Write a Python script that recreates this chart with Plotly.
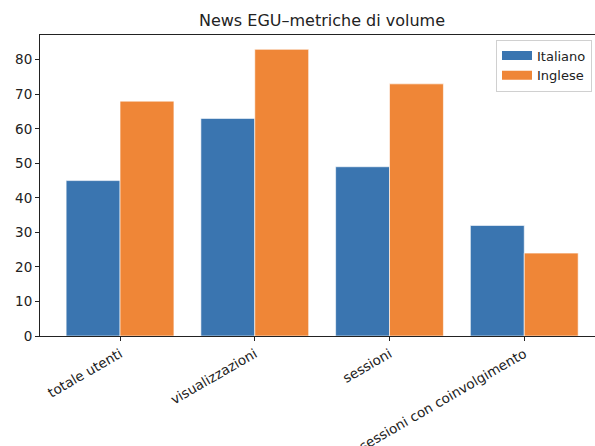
import plotly.graph_objects as go

categories = ["totale utenti", "visualizzazioni", "sessioni", "sessioni con coinvolgimento"]
italiano = [45, 63, 49, 32]
inglese = [68, 83, 73, 24]
y_ticks = [0, 10, 20, 30, 40, 50, 60, 70, 80]
series_names = ["Italiano", "Inglese"]
colors = ["#3a75b0", "#ef8637"]

xs = list(range(len(categories)))
fig = go.Figure()
for name, vals, col in zip(series_names, [italiano, inglese], colors):
    fig.add_trace(go.Bar(x=xs, y=vals, name=name, showlegend=False,
                         marker=dict(color=col, line=dict(color="white", width=0.6))))
# legend handles as wide rectangles (matplotlib style)
for name, col in zip(series_names, colors):
    fig.add_trace(go.Scatter(x=[None], y=[None], mode="lines", name=name,
                             line=dict(color=col, width=9)))

font = "DejaVu Sans, Liberation Sans, sans-serif"
W, H = 595, 446
fig.update_layout(
    width=W, height=H,
    barmode="group", bargap=0.2, bargroupgap=0,
    plot_bgcolor="white", paper_bgcolor="white",
    margin=dict(l=40, r=0, t=35, b=110, autoexpand=False),
    title=dict(text="News EGU–metriche di volume", x=322 / W, xanchor="center", xref="container",
               y=1 - 20 / H, yanchor="middle", yref="container",
               font=dict(family=font, size=16, color="#222")),
    font=dict(family=font, size=13.5, color="#222"),
    showlegend=True,
    legend=dict(x=0.9946, y=0.985, xanchor="right", yanchor="top",
                bordercolor="#d0d0d0", borderwidth=1, bgcolor="rgba(255,255,255,0.8)",
                font=dict(family=font, size=13, color="#222"),
                tracegroupgap=0),
)
fig.update_xaxes(
    range=[-0.594, 3.525], tickmode="array", tickvals=xs, automargin=False,
    ticktext=categories, tickangle=-30, ticks="outside", ticklen=4, tickcolor="#222",
    showline=True, linecolor="#222", linewidth=1, mirror=True, showgrid=False, zeroline=False,
    tickfont=dict(family=font, size=13.5, color="#222"),
)
fig.update_yaxes(
    range=[0, 87.15], tickmode="array", tickvals=y_ticks, ticks="outside", ticklen=4,
    automargin=False,
    tickcolor="#222", showline=True, linecolor="#222", linewidth=1, showgrid=False,
    zeroline=False, tickfont=dict(family=font, size=13.5, color="#222"),
)
fig.write_html("out.html", config={"displayModeBar": False},
               post_script="document.body.style.margin='0';document.body.style.overflow='hidden';")
